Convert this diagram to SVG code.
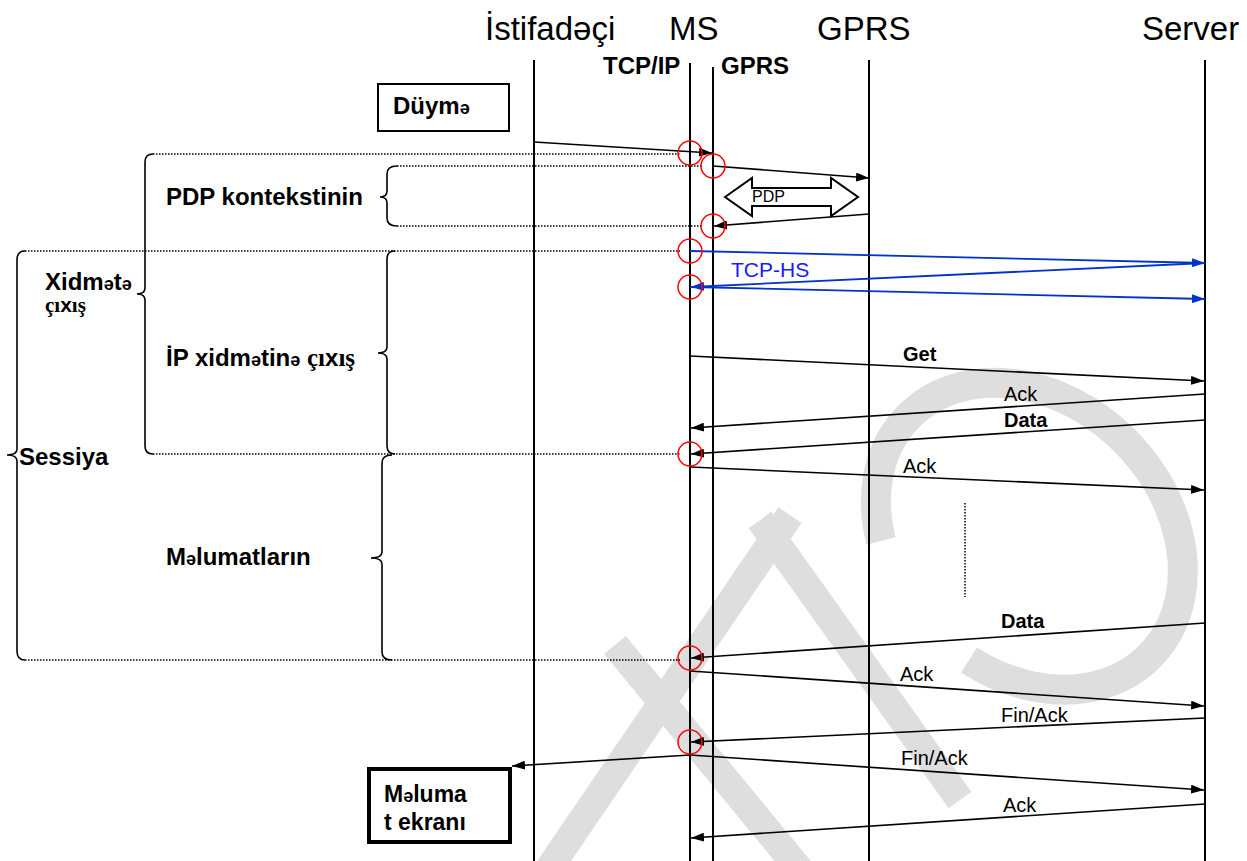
<svg xmlns="http://www.w3.org/2000/svg" width="1247" height="861" viewBox="0 0 1247 861">
<style>
.ll{stroke:#000;stroke-width:2;fill:none}
.ar{stroke:#000;stroke-width:1.6;fill:none;marker-end:url(#ah)}
.bl{stroke:#0033cc;stroke-width:1.8;fill:none;marker-end:url(#ahb)}
.dot{stroke:#000;stroke-width:1.5;stroke-dasharray:1.5 1.5;fill:none}
.br{stroke:#000;stroke-width:1.6;fill:none}
.rc{stroke:#ff0000;stroke-width:1.5;fill:none}
.box{fill:#fff;stroke:#000}
.t{font-family:"Liberation Sans","DejaVu Sans",sans-serif;fill:#000}
.hd{font-size:33px}
.bd{font-size:24px;font-weight:bold}
.lb{font-size:20px}
.lbb{font-size:20px;font-weight:bold}
.sm{font-size:18px}
.sf{font-family:"Liberation Serif","DejaVu Serif",serif;font-size:25px}
.wm{stroke:#dedede;fill:none;stroke-linecap:butt}
</style>
<defs>
<marker id="ah" markerWidth="13" markerHeight="9" refX="13" refY="4.5" orient="auto" markerUnits="userSpaceOnUse"><path d="M0,0 L13,4.5 L0,9 z" fill="#000"/></marker>
<marker id="ahb" markerWidth="13" markerHeight="9" refX="13" refY="4.5" orient="auto" markerUnits="userSpaceOnUse"><path d="M0,0 L13,4.5 L0,9 z" fill="#0033cc"/></marker>
</defs>
<rect width="1247" height="861" fill="#fff"/>
<g id="watermark">
<path class="wm" stroke-width="30" d="M881,541 A170,135 45 1,1 969,660"/>
<line class="wm" stroke-width="28" x1="548" y1="870" x2="790" y2="515"/>
<line class="wm" stroke-width="28" x1="615" y1="645" x2="800" y2="870"/>
<line class="wm" stroke-width="28" x1="760" y1="520" x2="960" y2="800"/>
</g>
<g id="node-user">
<text class="t hd" x="485" y="40">İstifadəçi</text>
<line class="ll" x1="534" y1="60" x2="534" y2="861"/>
</g>
<g id="node-ms">
<text class="t hd" x="669" y="40">MS</text>
<text class="t bd" x="603" y="74">TCP/IP</text>
<text class="t bd" x="721" y="74">GPRS</text>
<line class="ll" x1="690" y1="63" x2="690" y2="861"/>
<line class="ll" x1="713" y1="67" x2="713" y2="861"/>
</g>
<g id="node-gprs">
<text class="t hd" x="817" y="40">GPRS</text>
<line class="ll" x1="869" y1="60" x2="869" y2="861"/>
</g>
<g id="node-server">
<text class="t hd" x="1142" y="40">Server</text>
<line class="ll" x1="1205" y1="60" x2="1205" y2="861"/>
</g>
<g id="node-button">
<rect class="box" x="378" y="84" width="131" height="47" stroke-width="2"/>
<text class="t bd" x="393" y="114">Düym<tspan class="sm">ə</tspan></text>
</g>
<g id="node-screen">
<rect class="box" x="369" y="769" width="141" height="73" stroke-width="4"/>
<text class="t bd" x="384" y="802" style="font-size:23px">M<tspan class="sm">ə</tspan>luma</text>
<text class="t bd" x="384" y="830" style="font-size:23px">t ekranı</text>
</g>
<g id="node-pdp-arrow">
<polygon points="725,197 752,178 752,188 831,188 831,178 858,197 831,216 831,206 752,206 752,216" fill="#fff" stroke="#000" stroke-width="2"/>
<text class="t" x="752" y="202" style="font-size:16px">PDP</text>
</g>
<g id="phases">
<path class="br" d="M397,166 Q387,166 387,174 L387,191 Q387,197 380,197 Q387,197 387,203 L387,218 Q387,226 397,226"/>
<path class="br" d="M153,154 Q145,154 145,162 L145,288 Q145,294 137,294 Q145,294 145,300 L145,446 Q145,454 153,454"/>
<path class="br" d="M25,251 Q17,251 17,260 L17,449 Q17,455 7,455 Q17,455 17,461 L17,651 Q17,660 25,660"/>
<path class="br" d="M395,251 Q387,251 387,259 L387,347 Q387,353 378,353 Q387,353 387,359 L387,446 Q387,454 395,454"/>
<path class="br" d="M392,455 Q382,455 382,463 L382,552 Q382,558 371,558 Q382,558 382,564 L382,652 Q382,660 392,660"/>
<text class="t bd" x="166" y="205">PDP kontekstinin</text>
<text class="t bd" x="45" y="290">Xidm<tspan class="sm">ə</tspan>t<tspan class="sm">ə</tspan></text>
<text class="t bd" x="45" y="312" style="font-size:21px"><tspan class="sf" style="font-size:21px">çı</tspan>x<tspan class="sf" style="font-size:21px">ış</tspan></text>
<text class="t bd" x="166" y="366">İP xidm<tspan class="sm">ə</tspan>tin<tspan class="sm">ə</tspan> <tspan class="sf">çı</tspan>x<tspan class="sf">ış</tspan></text>
<text class="t bd" x="19" y="465">Sessiya</text>
<text class="t bd" x="166" y="565">M<tspan class="sm">ə</tspan>lumatların</text>
</g>
<g id="connectors">
<line class="dot" x1="153" y1="154" x2="680" y2="154"/>
<line class="dot" x1="397" y1="166" x2="703" y2="166"/>
<line class="dot" x1="397" y1="226" x2="703" y2="226"/>
<line class="dot" x1="25" y1="251" x2="680" y2="251"/>
<line class="dot" x1="153" y1="454" x2="680" y2="454"/>
<line class="dot" x1="25" y1="660" x2="680" y2="660"/>
<line class="dot" x1="965" y1="503" x2="965" y2="597"/>
<line class="ar" x1="534" y1="142" x2="712" y2="153"/>
<line class="ar" x1="713" y1="166" x2="869" y2="178"/>
<line class="ar" x1="869" y1="214" x2="714" y2="226"/>
<line class="bl" x1="690" y1="251" x2="1205" y2="263"/>
<line class="bl" x1="1205" y1="263" x2="691" y2="287"/>
<line class="bl" x1="690" y1="287" x2="1205" y2="299"/>
<line class="ar" x1="690" y1="356" x2="1204" y2="381"/>
<line class="ar" x1="1205" y1="394" x2="691" y2="428"/>
<line class="ar" x1="1205" y1="420" x2="691" y2="454"/>
<line class="ar" x1="690" y1="467" x2="1204" y2="490"/>
<line class="ar" x1="1205" y1="623" x2="691" y2="658"/>
<line class="ar" x1="690" y1="671" x2="1204" y2="706"/>
<line class="ar" x1="1205" y1="718" x2="691" y2="742"/>
<line class="ar" x1="690" y1="755" x2="1204" y2="790"/>
<line class="ar" x1="1205" y1="804" x2="691" y2="838"/>
<line class="ar" x1="690" y1="755" x2="512" y2="766"/>
<circle class="rc" cx="690" cy="153" r="12"/>
<circle class="rc" cx="713" cy="166" r="12"/>
<circle class="rc" cx="713" cy="226" r="12"/>
<circle class="rc" cx="690" cy="251" r="12"/>
<circle class="rc" cx="690" cy="287" r="12"/>
<circle class="rc" cx="690" cy="454" r="12"/>
<circle class="rc" cx="690" cy="658" r="12"/>
<circle class="rc" cx="690" cy="742" r="12"/>
<text class="t" x="731" y="277" style="font-size:21px;fill:#1a1aff">TCP-HS</text>
<text class="t lbb" x="903" y="361">Get</text>
<text class="t lb" x="1004" y="401">Ack</text>
<text class="t lbb" x="1004" y="427">Data</text>
<text class="t lb" x="903" y="473">Ack</text>
<text class="t lbb" x="1001" y="628">Data</text>
<text class="t lb" x="900" y="681">Ack</text>
<text class="t lb" x="1001" y="722">Fin/Ack</text>
<text class="t lb" x="901" y="765">Fin/Ack</text>
<text class="t lb" x="1003" y="812">Ack</text>
</g>
</svg>
